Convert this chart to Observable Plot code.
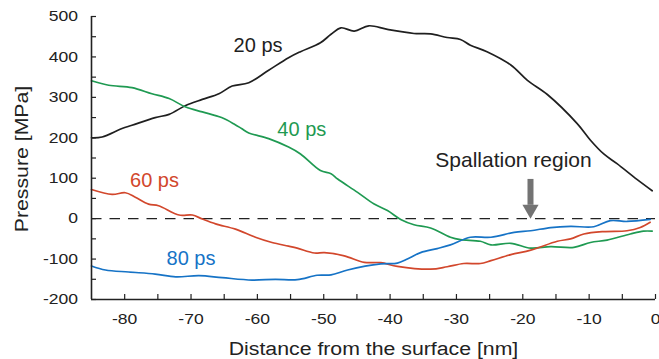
<!DOCTYPE html>
<html><head><meta charset="utf-8">
<script src="https://cdn.jsdelivr.net/npm/d3@7"></script>
<script src="https://cdn.jsdelivr.net/npm/@observablehq/plot@0.6"></script>
<style>body{margin:0;background:#fff} svg{display:block}</style>
</head><body><div id="chart"></div>
<script>
// ---- data (distance from surface [nm], pressure [MPa]) ----
const x20 = [-85, -83.4, -80.4, -78.9, -75.4, -73.3, -70.8, -68.3, -65.8, -63.8, -61.3, -58.3, -55.3, -53.5, -50.5, -48.9, -47.4, -45.4, -43.2, -40.4, -36.4, -33.9, -31.4, -29.4, -27.9, -25.4, -21.8, -19.3, -16.3, -11.8, -9.8, -7.8, -5.8, -2.8, -0.5];
const p20 = [200, 202, 223, 231, 250, 258, 280, 295, 309, 328, 336, 367, 398, 413, 435, 456, 472, 464, 477, 468, 458, 457, 448, 443, 429, 413, 380, 342, 307, 235, 194, 160, 136, 97, 69];

const x40 = [-85, -82.4, -78.9, -75.9, -73.3, -70.8, -68.3, -65.4, -63.4, -62.4, -61.3, -58.3, -55.3, -53.5, -50.5, -48.9, -47.9, -44.9, -42.4, -40.4, -38.4, -36.4, -33.9, -30.9, -29.4, -26.4, -24.8, -21.8, -18.8, -15.8, -12.3, -9.8, -7.3, -3.8, -1.8, -0.5];
const p40 = [341, 330, 324, 309, 297, 276, 264, 250, 233, 223, 212, 198, 177, 160, 119, 111, 98, 65, 36, 20, -2, -15, -23, -46, -52, -56, -65, -61, -73, -69, -71, -59, -53, -38, -31, -31];

const x60 = [-85, -81.9, -79.9, -78.4, -76.4, -74.9, -71.8, -69.8, -68.3, -66.3, -63.3, -60.3, -57.8, -55.3, -54, -51.4, -49.9, -46.9, -43.9, -41.4, -38.9, -33.9, -31.4, -28.9, -26.4, -24.8, -21.8, -18.8, -14.8, -12.8, -10.8, -7.8, -4.3, -2.3, -0.8];
const p60 = [72, 60, 64, 53, 36, 32, 9, 9, -1, -13, -26, -46, -59, -68, -73, -85, -84, -92, -108, -109, -118, -125, -119, -111, -111, -104, -89, -78, -56, -50, -38, -32, -30, -22, -9];

const x80 = [-85, -82.9, -79.4, -75.4, -72.3, -68.8, -65.3, -60.8, -57.3, -54, -51, -48.9, -46.4, -41.4, -38.9, -37.4, -35.4, -32.9, -30.9, -27.9, -24.8, -21.3, -18.8, -15.8, -12.8, -9.3, -6.8, -4.3, -0.8];
const p80 = [-117, -127, -132, -137, -144, -141, -146, -152, -150, -151, -140, -139, -127, -112, -110, -100, -84, -74, -65, -46, -46, -34, -30, -22, -19, -20, -5, -7, -2];

const seriesNames = ["20 ps", "40 ps", "60 ps", "80 ps"];
const seriesColors = ["#1f1f1f", "#1f9a52", "#d2472c", "#1673c6"];

// label positions (data space)
const labelX = [-59.9, -53.3, -75.5, -70.0];
const labelY = [428, 221, 93, -99];

const annotationText = "Spallation region";
const annotationX = -21.4, annotationY = 145;
const arrowX = -18.84, arrowTop = 97, arrowShaftEnd = 33, arrowHeadY = 23;

const xMajor = [-80, -70, -60, -50, -40, -30, -20, -10, 0];
const xMinor = [-75, -65, -55, -45, -35, -25, -15, -5];
const yMajor = [-200, -100, 0, 100, 200, 300, 400, 500];
const yMinor = [-150, -50, 50, 150, 250, 350, 450];

// ---- build table ----
const allX = [x20, x40, x60, x80], allP = [p20, p40, p60, p80];
const rows = seriesNames.flatMap((name, k) => allX[k].map((x, i) => ({series: name, x, p: allP[k][i]})));
const labels = seriesNames.map((name, k) => ({name, x: labelX[k], y: labelY[k], color: seriesColors[k]}));

const chart = Plot.plot({
  width: 659,
  height: 359,
  marginLeft: 91,
  marginRight: 4,
  marginTop: 16,
  marginBottom: 60,
  style: {fontFamily: "'Liberation Sans', Arial, Helvetica, sans-serif", fontSize: "15px", color: "#222", background: "#fff"},
  x: {domain: [-85, 0]},
  y: {domain: [-200, 500]},
  color: {domain: seriesNames, range: seriesColors},
  marks: [
    Plot.ruleY([0], {stroke: "#222", strokeWidth: 1.3, strokeDasharray: "10.5,8"}),
    Plot.line(rows, {x: "x", y: "p", z: "series", stroke: "series", strokeWidth: 1.7, curve: "catmull-rom"}),
    Plot.axisX([...xMajor, ...xMinor], {tickSize: -5, tickPadding: 18.7, tickFormat: d => (d % 10 === 0 ? String(d) : ""), fontSize: 15, label: null, stroke: "#222", strokeWidth: 1.2}),
    Plot.axisY([...yMajor, ...yMinor], {tickSize: -5, tickPadding: 18.5, tickFormat: d => (d % 100 === 0 ? String(d) : ""), fontSize: 15, label: null, stroke: "#222", strokeWidth: 1.2}),
    Plot.ruleX([-85], {stroke: "#222", strokeWidth: 1.6}),
    Plot.ruleY([-200], {stroke: "#222", strokeWidth: 1.6}),
    Plot.text(labels, {x: "x", y: "y", text: "name", fill: "color", fontSize: 20}),
    Plot.text([annotationText], {x: annotationX, y: annotationY, text: d => d, fill: "#222", fontSize: 21}),
    Plot.ruleX([arrowX], {y1: arrowTop, y2: arrowShaftEnd, stroke: "#737373", strokeWidth: 6}),
    Plot.dot([arrowX], {x: d => d, y: arrowHeadY, symbol: "triangle", r: 6, rotate: 180, fill: "#737373", stroke: "none"}),
    Plot.text(["Pressure [MPa]"], {frameAnchor: "left", dx: -70, dy: 1, rotate: -90, textAnchor: "middle", lineAnchor: "middle", text: d => d, fontSize: 19, fill: "#222", className: "ytitle"}),
    Plot.text(["Distance from the surface [nm]"], {frameAnchor: "bottom", dy: 49, textAnchor: "middle", lineAnchor: "middle", text: d => d, fontSize: 19, fill: "#222", className: "xtitle"})
  ]
});

// Slight horizontal stretch to match the reference typography
function stretch(sel, sx) {
  chart.querySelectorAll(sel).forEach(t => {
    const tr = t.getAttribute("transform") || "";
    t.setAttribute("transform", tr + ` scale(${sx},1)`);
  });
}
stretch('g[aria-label="x-axis tick label"] text, g[aria-label="y-axis tick label"] text', 1.17);
stretch('.xtitle text, .ytitle text, text.xtitle, text.ytitle', 1.12);

document.getElementById("chart").appendChild(chart);
</script>
</body></html>
